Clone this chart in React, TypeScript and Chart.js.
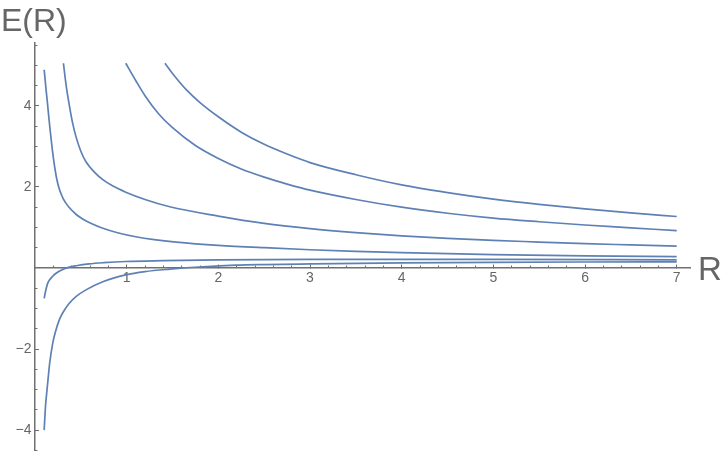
import React, { useEffect, useRef } from "react";
import { Chart, registerables } from "chart.js";

Chart.register(...registerables);

// ---- data ----
const curveAX = [0.1, 0.12, 0.138, 0.155, 0.175, 0.19, 0.21, 0.235, 0.265, 0.31, 0.374, 0.45, 0.52, 0.62, 0.74, 0.9, 1.1, 1.3, 1.54, 2.0, 2.5, 3.0, 3.5, 4.0, 5.0, 6.0, 7.0];
const curveAY = [4.89, 4.42, 4.02, 3.62, 3.2, 2.9, 2.56, 2.22, 1.95, 1.7, 1.49, 1.32, 1.21, 1.09, 0.98, 0.87, 0.77, 0.7, 0.64, 0.56, 0.5, 0.45, 0.41, 0.38, 0.33, 0.3, 0.28];

const curveBX = [0.31, 0.34, 0.374, 0.41, 0.447, 0.5, 0.556, 0.65, 0.74, 0.85, 0.99, 1.2, 1.47, 2.0, 2.5, 3.0, 3.5, 4.0, 4.5, 5.0, 5.5, 6.0, 6.5, 7.0];
const curveBY = [5.05, 4.5, 4.02, 3.58, 3.24, 2.88, 2.62, 2.36, 2.18, 2.02, 1.87, 1.69, 1.51, 1.28, 1.1, 0.97, 0.87, 0.79, 0.73, 0.68, 0.64, 0.6, 0.57, 0.54];

const curveCX = [0.99, 1.1, 1.2, 1.35, 1.5, 1.75, 2.0, 2.25, 2.5, 2.75, 3.0, 3.5, 4.0, 4.5, 5.0, 5.5, 6.0, 6.5, 7.0];
const curveCY = [5.05, 4.62, 4.25, 3.8, 3.46, 3.02, 2.7, 2.44, 2.24, 2.07, 1.92, 1.69, 1.5, 1.35, 1.23, 1.14, 1.06, 0.99, 0.92];

const curveDX = [1.418, 1.5, 1.65, 1.8, 2.0, 2.25, 2.5, 2.75, 3.0, 3.5, 4.0, 4.5, 5.0, 5.5, 6.0, 6.5, 7.0];
const curveDY = [5.05, 4.8, 4.4, 4.08, 3.73, 3.35, 3.05, 2.81, 2.6, 2.3, 2.05, 1.86, 1.7, 1.57, 1.46, 1.36, 1.27];

const curveEX = [0.1, 0.115, 0.138, 0.16, 0.19, 0.23, 0.28, 0.374, 0.45, 0.59, 0.75, 0.99, 1.4, 2.0, 3.0, 5.0, 7.0];
const curveEY = [-0.75, -0.58, -0.38, -0.29, -0.21, -0.13, -0.06, 0.02, 0.055, 0.1, 0.13, 0.16, 0.18, 0.2, 0.21, 0.21, 0.2];

const curveFX = [0.1, 0.115, 0.138, 0.16, 0.193, 0.22, 0.265, 0.31, 0.374, 0.45, 0.556, 0.74, 0.99, 1.2, 1.47, 1.83, 2.19, 2.5, 3.0, 4.0, 5.0, 6.0, 7.0];
const curveFY = [-4.0, -3.4, -2.85, -2.35, -1.86, -1.6, -1.28, -1.08, -0.87, -0.7, -0.54, -0.34, -0.17, -0.09, -0.03, 0.03, 0.07, 0.085, 0.1, 0.125, 0.14, 0.148, 0.153];

const xTickValues = [1, 2, 3, 4, 5, 6, 7];
const yTickValues = [-4, -2, 2, 4];
const xMinorTickValues = Array.from({ length: 35 }, (_, i) => Math.round((i + 1) * 2) / 10);
const yMinorTickValues = Array.from({ length: 21 }, (_, i) => -4.5 + i * 0.5);

const xTitle = "R";
const yTitle = "E(R)";

const X_MIN = 0;
const X_MAX = 7.145;
const Y_MIN = -4.49;
const Y_MAX = 5.55;

const LINE_COLOR = "#5e81b5";
const AXIS_COLOR = "#707070";
const TEXT_COLOR = "#666666";
const FONT = '"Liberation Sans", Arial, sans-serif';

function pts(xs: number[], ys: number[]) {
  return xs.map((x, i) => ({ x, y: ys[i] }));
}

const fmt = (v: number) => (v < 0 ? "\u2212" + Math.abs(v) : String(v));

const axisTitles = {
  id: "axisTitles",
  afterDraw(chart: any) {
    const { ctx, scales } = chart;
    ctx.save();
    ctx.fillStyle = TEXT_COLOR;
    ctx.textBaseline = "alphabetic";
    ctx.textAlign = "left";
    ctx.font = `32px ${FONT}`;
    ctx.fillText(yTitle, 1, 31);
    ctx.font = `33px ${FONT}`;
    ctx.fillText(xTitle, scales.x.right + 8, scales.y.getPixelForValue(0) + 12);
    ctx.restore();
  },
};

export default function App() {
  const ref = useRef<HTMLCanvasElement>(null);

  useEffect(() => {
    document.body.style.margin = "0";
    const canvas = ref.current!;
    const series = [
      pts(curveAX, curveAY),
      pts(curveBX, curveBY),
      pts(curveCX, curveCY),
      pts(curveDX, curveDY),
      pts(curveEX, curveEY),
      pts(curveFX, curveFY),
    ];
    const minorAfterFit = (s: any) => {
      s.paddingLeft = 0;
      s.paddingRight = 0;
      s.paddingTop = 0;
      s.paddingBottom = 0;
    };
    const chart = new Chart(canvas, {
      type: "scatter",
      data: {
        datasets: series.map((d) => ({
          data: d,
          showLine: true,
          borderColor: LINE_COLOR,
          backgroundColor: LINE_COLOR,
          borderWidth: 1.7,
          pointRadius: 0,
          cubicInterpolationMode: "monotone" as const,
          fill: false,
        })),
      },
      options: {
        animation: false,
        responsive: false,
        maintainAspectRatio: false,
        layout: { padding: { left: 0, right: 33, top: 43, bottom: 2 } },
        plugins: { legend: { display: false }, tooltip: { enabled: false } },
        scales: {
          x: {
            type: "linear",
            axis: "x",
            min: X_MIN,
            max: X_MAX,
            position: { y: 0 },
            afterBuildTicks: (s: any) => {
              s.ticks = xTickValues.map((v) => ({ value: v }));
            },
            afterFit: minorAfterFit,
            grid: { drawOnChartArea: false, drawTicks: true, tickLength: -4, tickColor: AXIS_COLOR, tickWidth: 1 },
            border: { display: true, color: AXIS_COLOR, width: 1.5 },
            ticks: {
              padding: 6,
              color: TEXT_COLOR,
              font: { family: FONT, size: 14 },
              maxRotation: 0,
              autoSkip: false,
              callback: (v: any) => fmt(Number(v)),
            },
          },
          xMinor: {
            type: "linear",
            axis: "x",
            min: X_MIN,
            max: X_MAX,
            position: { y: 0 },
            afterBuildTicks: (s: any) => {
              s.ticks = xMinorTickValues.map((v) => ({ value: v }));
            },
            afterFit: minorAfterFit,
            grid: { drawOnChartArea: false, drawTicks: true, tickLength: -2.5, tickColor: AXIS_COLOR, tickWidth: 1 },
            border: { display: false },
            ticks: { display: false, autoSkip: false },
          },
          y: {
            type: "linear",
            axis: "y",
            min: Y_MIN,
            max: Y_MAX,
            position: "left",
            afterBuildTicks: (s: any) => {
              s.ticks = yTickValues.map((v) => ({ value: v }));
            },
            afterFit: (s: any) => {
              s.width = 35;
              s.paddingLeft = 0;
              s.paddingRight = 0;
              s.paddingTop = 0;
              s.paddingBottom = 0;
            },
            grid: { drawOnChartArea: false, drawTicks: true, tickLength: -4, tickColor: AXIS_COLOR, tickWidth: 1 },
            border: { display: true, color: AXIS_COLOR, width: 1.5 },
            ticks: {
              padding: 7.5,
              color: TEXT_COLOR,
              font: { family: FONT, size: 14 },
              autoSkip: false,
              callback: (v: any) => fmt(Number(v)),
            },
          },
          yMinor: {
            type: "linear",
            axis: "y",
            min: Y_MIN,
            max: Y_MAX,
            position: { x: 0 },
            afterBuildTicks: (s: any) => {
              s.ticks = yMinorTickValues.map((v) => ({ value: v }));
            },
            afterFit: minorAfterFit,
            grid: { drawOnChartArea: false, drawTicks: true, tickLength: -2.5, tickColor: AXIS_COLOR, tickWidth: 1 },
            border: { display: false },
            ticks: { display: false, autoSkip: false },
          },
        },
      },
      plugins: [axisTitles],
    } as any);
    return () => chart.destroy();
  }, []);

  return (
    <div style={{ width: 723, height: 452, position: "relative" }}>
      <canvas ref={ref} width={723} height={452} style={{ display: "block" }} />
    </div>
  );
}
